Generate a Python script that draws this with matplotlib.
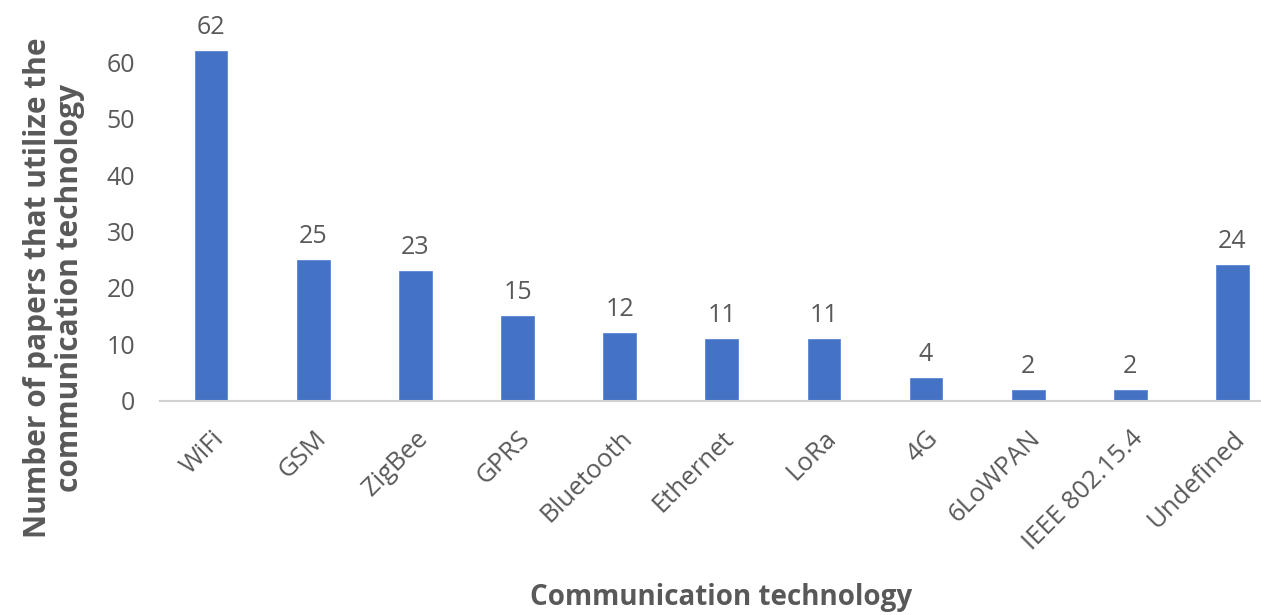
import numpy as np
import matplotlib
matplotlib.use("Agg")
import matplotlib.pyplot as plt

technologies = ["WiFi", "GSM", "ZigBee", "GPRS", "Bluetooth", "Ethernet", "LoRa",
                "4G", "6LoWPAN", "IEEE 802.15.4", "Undefined"]
paper_counts = [62, 25, 23, 15, 12, 11, 11, 4, 2, 2, 24]
y_ticks = [0, 10, 20, 30, 40, 50, 60]

plt.rcParams["font.family"] = ["Open Sans", "DejaVu Sans"]
text_gray = "#595959"
bar_blue = "#4472C4"

fig = plt.figure(figsize=(12.61, 6.15), dpi=100)
ax = fig.add_axes([0.1269, 0.348, 0.891, 0.643])

x = np.arange(len(technologies))
bars = ax.bar(x, paper_counts, width=0.32, color=bar_blue, edgecolor="#5b87d6", linewidth=0.6)

for rect, val in zip(bars, paper_counts):
    ax.annotate(str(val), (rect.get_x() + rect.get_width() / 2, rect.get_height()),
                xytext=(0, 8), textcoords="offset points", ha="center", va="bottom",
                fontsize=18, color=text_gray)

ax.set_xlim(-0.5, len(technologies) - 0.5)
ax.set_ylim(0, 70)
ax.set_yticks(y_ticks)
ax.set_yticklabels([str(t) for t in y_ticks], fontsize=18, color=text_gray)
ax.set_xticks(x)
ax.set_xticklabels(technologies, rotation=45, ha="right", rotation_mode="anchor",
                   fontsize=18.5, color=text_gray)
ax.tick_params(axis="both", length=0)
ax.tick_params(axis="y", pad=18)
ax.tick_params(axis="x", pad=18)

for side in ["top", "right", "left"]:
    ax.spines[side].set_visible(False)
ax.spines["bottom"].set_color("#d0d0d0")
ax.spines["bottom"].set_linewidth(1.5)

fig.text(0.0428, 0.532, "Number of papers that utilize the\ncommunication technology",
         rotation=90, ha="center", va="center", fontsize=21.5, fontweight="bold",
         color=text_gray, linespacing=1.1, multialignment="center")
fig.text(0.572, 0.028, "Communication technology", ha="center", va="center",
         fontsize=20, fontweight="bold", color=text_gray)

fig.savefig("out.png", dpi=100)
